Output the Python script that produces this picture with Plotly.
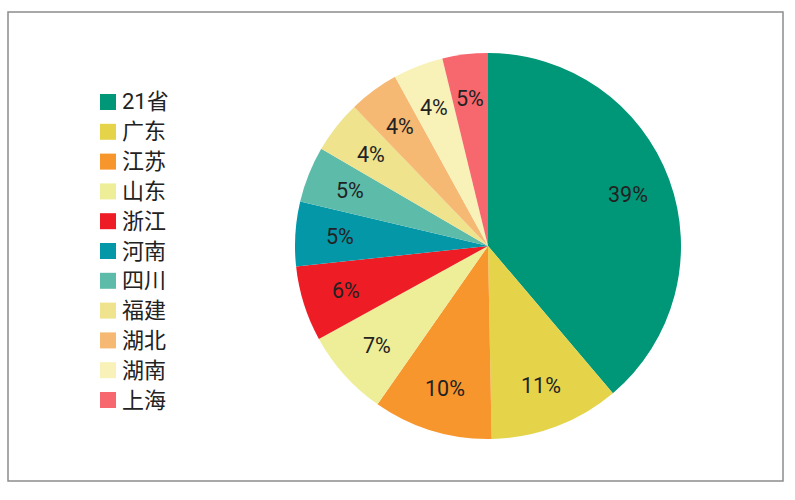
import math
import plotly.graph_objects as go

categories = ["21省", "广东", "江苏", "山东", "浙江", "河南", "四川", "福建", "湖北", "湖南", "上海"]
values = [38.8, 10.9, 10.0, 7.3, 6.3, 5.4, 4.7, 4.4, 4.2, 4.2, 3.8]
value_labels = ["39%", "11%", "10%", "7%", "6%", "5%", "5%", "4%", "4%", "4%", "5%"]
colors = ["#009678", "#E5D44A", "#F7962D", "#EEEE98", "#EE1C25", "#0497A8",
          "#5DBBA9", "#EFE38E", "#F5B973", "#F8F2B8", "#F7686E"]

W, H = 795, 500
cx, cy, r = 488, 246, 193
FONT = "Roboto, Noto Sans CJK SC"
TEXT = "#222222"


def px(x):
    return x / W


def py(y):
    return 1 - y / H


fig = go.Figure(go.Pie(
    labels=categories, values=values, textinfo="none",
    hovertext=value_labels, hoverinfo="label+text",
    sort=False, direction="clockwise", rotation=0, showlegend=False,
    marker=dict(colors=colors, line=dict(width=0)),
    domain=dict(x=[px(cx - r), px(cx + r)], y=[py(cy + r), py(cy - r)]),
))

annotations = []
shapes = [dict(type="rect", xref="paper", yref="paper",
               x0=px(8), x1=px(783), y0=py(481), y1=py(12),
               line=dict(color="#8c8c8c", width=1.5), layer="below")]

# value labels sit at a fixed fraction of the radius, at each slice's mid-angle
total = sum(values)
running = 0.0
for v, lab in zip(values, value_labels):
    a = 2 * math.pi * (running + v / 2) / total
    running += v
    annotations.append(dict(
        xref="paper", yref="paper", showarrow=False, text=lab,
        x=px(cx + 0.77 * r * math.sin(a)), y=py(cy - 0.77 * r * math.cos(a)),
        xanchor="center", yanchor="middle",
        font=dict(size=21.5, color=TEXT, family=FONT)))

# legend column: swatch plus real text label for each category
for i, (name, col) in enumerate(zip(categories, colors)):
    yc = 102 + 29.8 * i
    shapes.append(dict(type="rect", xref="paper", yref="paper",
                       x0=px(100), x1=px(116), y0=py(yc + 8), y1=py(yc - 8),
                       fillcolor=col, line=dict(width=0)))
    annotations.append(dict(
        xref="paper", yref="paper", showarrow=False, text=name,
        x=px(122), y=py(yc), xanchor="left", yanchor="middle", xshift=-2,
        font=dict(size=22, color=TEXT, family=FONT)))

fig.update_layout(
    width=W, height=H, margin=dict(l=0, r=0, t=0, b=0),
    paper_bgcolor="white", font=dict(family=FONT, color=TEXT),
    annotations=annotations, shapes=shapes,
)
fig.write_html("out.html", config=dict(displayModeBar=False),
               post_script="document.body.style.margin='0';")
